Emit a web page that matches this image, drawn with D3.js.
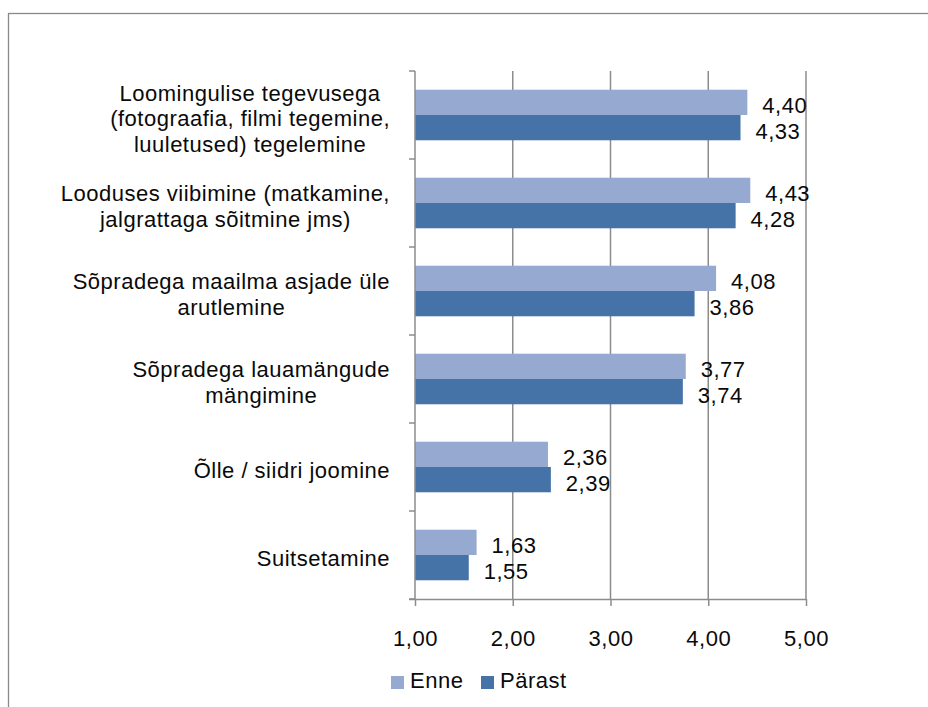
<!DOCTYPE html>
<html>
<head>
<meta charset="utf-8">
<script src="https://cdn.jsdelivr.net/npm/d3@7"></script>
<style>
  body { margin: 0; background: #fff; }
  svg text { font-family: "Liberation Sans", Arial, sans-serif; font-size: 22px; fill: #0a0a0a; letter-spacing: 0.5px; }
</style>
</head>
<body>
<div id="chart"></div>
<script>
// categories (top to bottom), each label already wrapped into lines
var categories = [
    ["Loomingulise tegevusega", "(fotograafia, filmi tegemine,", "luuletused) tegelemine"],
    ["Looduses viibimine (matkamine,", "jalgrattaga sõitmine jms)"],
    ["Sõpradega maailma asjade üle", "arutlemine"],
    ["Sõpradega lauamängude", "mängimine"],
    ["Õlle / siidri joomine"],
    ["Suitsetamine"]
];
var series = ["Enne", "Pärast"];
var enne   = [4.40, 4.43, 4.08, 3.77, 2.36, 1.63];
var parast = [4.33, 4.28, 3.86, 3.74, 2.39, 1.55];
var xTicks = [1, 2, 3, 4, 5];
var colors = ["#95a9d1", "#4573a8"];

var width = 928, height = 707;
var fmt = function(v) { return d3.format(".2f")(v).replace(".", ","); };

var svg = d3.select("#chart").append("svg")
    .attr("width", width)
    .attr("height", height);

// outer chart border (runs off right & bottom edge)
svg.append("rect")
    .attr("x", 8.5).attr("y", 13.5)
    .attr("width", 940).attr("height", 720)
    .attr("fill", "none")
    .attr("stroke", "#898989")
    .attr("stroke-width", 1.3);

var plot = { left: 415, right: 806, top: 71, bottom: 599 };

var x = d3.scaleLinear().domain([1, 5]).range([plot.left, plot.right]);

var idx = d3.range(categories.length);
var y0 = d3.scaleBand().domain(idx).range([plot.top, plot.bottom]);
var y1 = d3.scaleBand().domain(series).range([0, y0.bandwidth()]).paddingOuter(0.74);

// gridlines
svg.append("g").selectAll("line")
    .data(xTicks.slice(1))
    .enter().append("line")
    .attr("x1", function(d) { return x(d); })
    .attr("x2", function(d) { return x(d); })
    .attr("y1", plot.top)
    .attr("y2", plot.bottom)
    .attr("stroke", "#8c8c8c")
    .attr("stroke-width", 1.5);

// bars
var rows = idx.map(function(i) {
    return { i: i, values: [enne[i], parast[i]] };
});

var groups = svg.append("g").selectAll("g")
    .data(rows)
    .enter().append("g")
    .attr("transform", function(d) { return "translate(0," + y0(d.i) + ")"; });

groups.selectAll("rect")
    .data(function(d) { return d.values.map(function(v, k) { return { s: series[k], v: v, k: k }; }); })
    .enter().append("rect")
    .attr("x", x(1))
    .attr("y", function(d) { return y1(d.s); })
    .attr("width", function(d) { return x(d.v) - x(1); })
    .attr("height", y1.bandwidth())
    .attr("fill", function(d) { return colors[d.k]; });

groups.selectAll("text.val")
    .data(function(d) { return d.values.map(function(v, k) { return { s: series[k], v: v, k: k }; }); })
    .enter().append("text")
    .attr("class", "val")
    .attr("x", function(d) { return x(d.v) + 15; })
    .attr("y", function(d) { return y1(d.s) + y1.bandwidth() / 2 + 11; })
    .text(function(d) { return fmt(d.v); });

// left (category) axis
var yAxis = svg.append("g");
yAxis.append("line")
    .attr("x1", plot.left).attr("x2", plot.left)
    .attr("y1", plot.top).attr("y2", plot.bottom)
    .attr("stroke", "#8c8c8c").attr("stroke-width", 1.5);
yAxis.selectAll("line.tick")
    .data(idx.concat([categories.length]))
    .enter().append("line")
    .attr("class", "tick")
    .attr("x1", plot.left - 6).attr("x2", plot.left)
    .attr("y1", function(d) { return plot.top + d * y0.step(); })
    .attr("y2", function(d) { return plot.top + d * y0.step(); })
    .attr("stroke", "#8c8c8c").attr("stroke-width", 1.5);

// category labels: lines centred within block, block right aligned
var lineH = 25.5;
categories.forEach(function(lines, i) {
    var cy = y0(i) + y0.bandwidth() / 2 + 3;
    var g = svg.append("g");
    var texts = g.selectAll("text")
        .data(lines)
        .enter().append("text")
        .attr("text-anchor", "middle")
        .attr("y", function(d, j) { return cy + (j - (lines.length - 1) / 2) * lineH + 8; })
        .text(function(d) { return d; });
    var maxW = 0;
    texts.each(function() { maxW = Math.max(maxW, this.getComputedTextLength()); });
    texts.attr("x", 390 - maxW / 2);
});

// bottom axis
var xAxis = svg.append("g")
    .attr("transform", "translate(0," + plot.bottom + ")")
    .call(d3.axisBottom(x).tickValues(xTicks).tickSize(7).tickPadding(0).tickFormat(fmt));
xAxis.select(".domain")
    .attr("stroke", "#8c8c8c").attr("stroke-width", 1.5)
    .attr("d", "M" + (plot.left - 6) + ",0.5H" + plot.right);
xAxis.selectAll(".tick line").attr("stroke", "#8c8c8c").attr("stroke-width", 1.5);
xAxis.selectAll(".tick text")
    .attr("font-family", null).attr("font-size", null)
    .attr("dy", null)
    .attr("y", 46.5)
    .attr("fill", null);

// legend
var legendX = [391, 481];
var legend = svg.append("g").selectAll("g")
    .data(series)
    .enter().append("g")
    .attr("transform", function(d, k) { return "translate(" + legendX[k] + ",676)"; });
legend.append("rect")
    .attr("width", 13).attr("height", 13)
    .attr("fill", function(d, k) { return colors[k]; });
legend.append("text")
    .attr("x", 19).attr("y", 12)
    .text(function(d) { return d; });
</script>
</body>
</html>
